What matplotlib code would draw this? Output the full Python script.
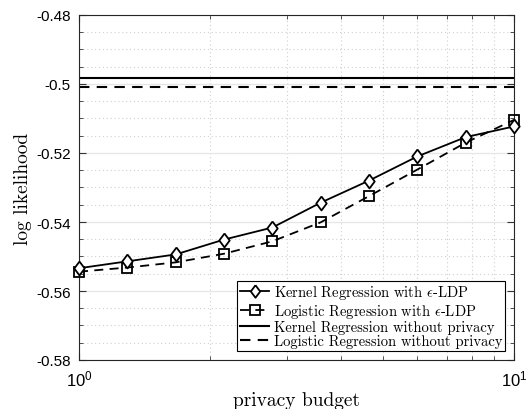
import numpy as np
import matplotlib
matplotlib.use('Agg')
import matplotlib.pyplot as plt
from matplotlib.ticker import FixedLocator, NullFormatter

# privacy budget (log spaced, 10 points)
budget = [1.0, 1.292, 1.668, 2.154, 2.783, 3.594, 4.642, 5.995, 7.743, 10.0]
kernel_ldp = [-0.5534, -0.5514, -0.5494, -0.5451, -0.5416, -0.5344, -0.5280, -0.5210, -0.5154, -0.5123]
logistic_ldp = [-0.5544, -0.5532, -0.5517, -0.5492, -0.5456, -0.5401, -0.5325, -0.5248, -0.5170, -0.5104]
kernel_nopriv = -0.4982
logistic_nopriv = -0.5009

yticks = [-0.58, -0.56, -0.54, -0.52, -0.5, -0.48]
ytick_labels = ['-0.58', '-0.56', '-0.54', '-0.52', '-0.5', '-0.48']
xtick_labels = [r'$\mathregular{10^{0}}$', r'$\mathregular{10^{1}}$']
labels = [r'Kernel Regression with $\epsilon$-LDP',
          r'Logistic Regression with $\epsilon$-LDP',
          'Kernel Regression without privacy',
          'Logistic Regression without privacy']

# matlab-like diamond (wider than matplotlib's thin diamond)
diamond = [(0, 1), (0.75, 0), (0, -1), (-0.75, 0), (0, 1)]


def setup_pyplot():
    plt.rcParams['mathtext.fontset'] = 'cm'
    plt.rcParams['xtick.direction'] = 'in'
    plt.rcParams['ytick.direction'] = 'in'
    plt.rcParams['axes.linewidth'] = 0.8


def main():
    fig = plt.figure(figsize=(5.26, 4.10), dpi=100)
    ax = fig.add_axes([79 / 526, 1 - 361 / 410, 435 / 526, 345 / 410])

    ax.semilogx(budget, kernel_ldp, '-', color='k', lw=1.3, marker=diamond, ms=10,
                mfc='white', mec='k', mew=1.3, label=labels[0], zorder=4,
                clip_on=False)
    ax.semilogx(budget, logistic_ldp, '--', color='k', lw=1.3, marker='s', ms=7.5,
                mfc='none', mec='k', mew=1.3, label=labels[1], zorder=3,
                dashes=(5, 3.5), clip_on=False)
    ax.axhline(kernel_nopriv, color='k', lw=1.5, label=labels[2])
    ax.axhline(logistic_nopriv, color='k', lw=1.5, ls='--', dashes=(5, 3.5),
               label=labels[3])

    ax.set_xlim(1, 10)
    ax.set_ylim(-0.58, -0.48)

    ax.set_xticks([1, 10])
    ax.set_xticklabels(xtick_labels, family='Liberation Sans', fontsize=12)
    ax.xaxis.set_minor_locator(FixedLocator(range(2, 10)))
    ax.xaxis.set_minor_formatter(NullFormatter())

    ax.set_yticks(yticks)
    ax.set_yticklabels(ytick_labels, family='Liberation Sans', fontsize=11)
    ax.yaxis.set_minor_locator(FixedLocator(np.arange(-0.58, -0.479, 0.005)))

    ax.tick_params(which='both', top=True, right=True, color='#333333')
    ax.tick_params(which='major', length=5, width=0.8, pad=6)
    ax.tick_params(which='minor', length=3, width=0.6)

    ax.grid(which='major', color='#e6e6e6', lw=0.9, ls='-')
    ax.grid(which='minor', color='#d0d0d0', lw=0.8, ls=(0, (1, 2.5)))
    ax.set_axisbelow(True)
    for sp in ax.spines.values():
        sp.set_color('#262626')

    ax.set_xlabel('privacy budget', family='cmr10', fontsize=14, labelpad=2)
    ax.set_ylabel('log likelihood', family='cmr10', fontsize=14, labelpad=3)

    leg = ax.legend(loc='lower right', fancybox=False, edgecolor='k',
                    framealpha=1, prop={'family': 'cmr10', 'size': 10.5},
                    handlelength=2.0, handletextpad=0.3, borderpad=0.2,
                    labelspacing=0.02, borderaxespad=0.6, markerscale=0.9)
    leg.get_frame().set_linewidth(0.8)

    fig.savefig('out.png', dpi=100)


if __name__ == '__main__':
    setup_pyplot()
    main()
